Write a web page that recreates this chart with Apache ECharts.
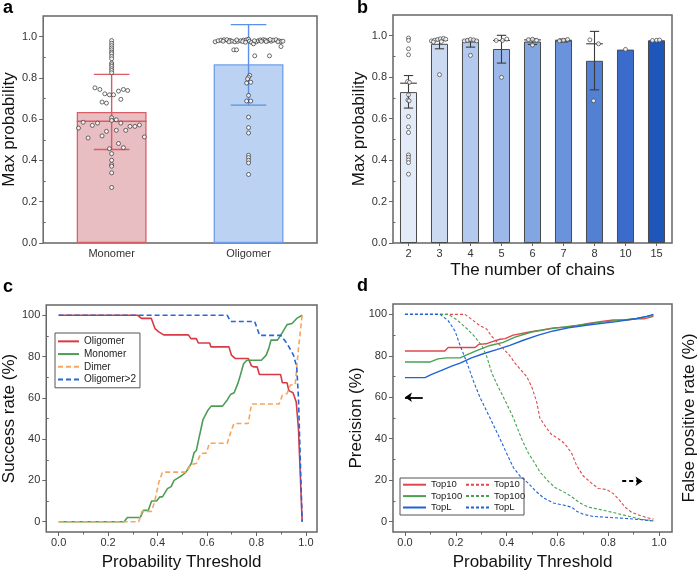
<!DOCTYPE html>
<html><head><meta charset="utf-8">
<script src="https://cdn.jsdelivr.net/npm/echarts@6/dist/echarts.min.js"></script>
<style>html,body{margin:0;padding:0;background:#fff}#c{width:700px;height:574px}</style>
</head><body><div id="c"></div>
<script>
// ---------------- Panel a ----------------
const aCategories = ['Monomer', 'Oligomer'];
const aMeans = [0.635, 0.866];
const aErrLow = [0.453, 0.668];
const aErrHigh = [0.817, 1.058];
const aMedians = [0.590, 0.976];
const monomerValues = [0.981,0.968,0.957,0.946,0.936,0.925,0.917,0.904,0.893,0.872,0.864,0.856,0.845,0.836,0.825,
  0.752,0.744,0.723,0.718,0.718,0.736,0.744,0.739,0.696,0.683,0.678,
  0.607,0.594,0.597,0.585,0.581,0.581,0.570,0.557,0.565,0.565,0.572,0.541,0.546,0.546,0.519,0.509,0.514,0.482,0.462,0.457,0.433,0.401,0.380,0.372,0.340,0.269];
const monomerOffsets = [0,0,0,0,0,0,0,0,0,0,0,0,0,0,0,
  -0.122,-0.086,-0.050,-0.016,0.014,0.050,0.086,0.117,0.067,-0.070,-0.038,
  0,0,0.034,-0.208,0.067,-0.103,-0.141,-0.242,0.134,0.170,0.203,-0.038,0.034,0.103,-0.070,-0.172,0.239,0.050,0.086,-0.016,0,0,0,0,0,0];
const oligomerValues = [0.975,0.980,0.983,0.985,0.985,0.982,0.978,0.975,0.977,0.980,0.983,0.985,0.987,0.978,0.972,0.965,0.975,0.980,0.984,0.985,0.983,0.980,0.978,0.983,0.985,0.980,0.976,0.978,0.975,0.976,0.980,0.976,0.984,0.986,0.975,0.978,0.973,0.977,
  0.936,0.936,0.907,0.907,0.952,
  0.812,0.803,0.795,0.775,0.779,0.715,0.688,0.688,0.610,0.559,0.533,0.425,0.414,0.401,0.388,0.332];
const oligomerOffsets = [-0.244,-0.222,-0.201,-0.179,-0.158,-0.136,-0.122,-0.100,-0.079,-0.057,-0.036,-0.014,0,0.007,0.022,0.036,0.057,0.072,0.086,0.108,0.122,0.143,0.165,0.179,0.201,0.222,0.237,0.251,-0.143,-0.043,0.043,0.129,-0.086,0.158,0.215,-0.186,-0.022,0.093,
  -0.108,-0.088,0.045,0.153,0.237,
  0.009,0,-0.007,-0.014,0.016,0,-0.014,0.016,0,0,0,0,0,0,0,0];

// ---------------- Panel b ----------------
const bCategories = ['2','3','4','5','6','7','8','10','15'];
const bMeans = [0.728,0.961,0.972,0.936,0.972,0.977,0.879,0.933,0.978];
const bErrLow = [0.651,0.937,0.945,0.868,0.958,0.970,0.739,null,null];
const bErrHigh = [0.808,0.985,0.983,1.002,0.985,0.984,1.021,null,null];
const bMedians = [0.771,0.977,0.978,0.977,0.980,0.978,0.961,null,null];
const bPointValues = [
  [0.989,0.978,0.937,0.908,0.779,0.775,0.715,0.690,0.686,0.610,0.560,0.533,0.425,0.414,0.401,0.388,0.332],
  [0.975,0.978,0.982,0.985,0.987,0.983,0.970,0.972,0.812],
  [0.975,0.978,0.982,0.980,0.975,0.905],
  [0.977,0.977,0.984,0.799],
  [0.981,0.983,0.978,0.955],
  [0.975,0.978,0.982],
  [0.980,0.961,0.686],
  [0.934],
  [0.977,0.978,0.979]
];
const bPointOffsets = [
  [0,0,0,0,-0.03,0.03,0,-0.02,0.02,0,0,0,0,0,0,0,0],
  [-0.26,-0.16,-0.06,0.03,0.13,0.2,-0.2,0.06,0],
  [-0.2,-0.1,0,0.1,0.2,0],
  [-0.17,0.03,0.17,0],
  [-0.13,0,0.13,0],
  [-0.13,0,0.13],
  [-0.15,0.13,-0.03],
  [0],
  [-0.13,0,0.1]
];

// ---------------- Panel c ----------------
const cOligomer = [[0,100],[0.32,100],[0.335,98.5],[0.375,98.5],[0.39,93.5],[0.405,92],[0.425,90.5],[0.525,90.5],[0.535,88.7],[0.557,88.7],[0.565,86.6],[0.611,86.6],[0.616,84.7],[0.689,84.7],[0.699,80.7],[0.714,79.1],[0.767,79.1],[0.78,75.5],[0.79,75],[0.803,75],[0.812,71.3],[0.898,71.3],[0.905,67.3],[0.924,67.3],[0.931,63.5],[0.948,62.5],[0.961,58],[0.97,45],[0.985,0]];
const cMonomer = [[0,0],[0.265,0],[0.278,2],[0.33,2],[0.343,5.5],[0.363,5.5],[0.376,10],[0.396,10],[0.409,12],[0.42,12],[0.44,16],[0.455,17],[0.467,20],[0.48,21],[0.5,22.5],[0.515,24],[0.525,26],[0.537,28.3],[0.548,33.5],[0.557,34.5],[0.565,39],[0.584,49.5],[0.604,54],[0.617,56],[0.663,56],[0.682,59],[0.695,61.6],[0.71,62.5],[0.725,67],[0.735,71],[0.748,76.5],[0.761,78.2],[0.82,78.2],[0.839,80.6],[0.85,84],[0.859,88],[0.885,88],[0.898,90.3],[0.924,95.5],[0.944,96],[0.963,98.5],[0.985,100]];
const cDimer = [[0,0],[0.324,0],[0.337,5],[0.376,5],[0.389,10],[0.405,19],[0.42,24],[0.519,24],[0.532,27.5],[0.558,28.3],[0.575,33],[0.597,33.2],[0.61,38],[0.682,38],[0.695,43],[0.709,47.6],[0.767,47.6],[0.78,57],[0.892,57],[0.905,61.3],[0.924,62.1],[0.937,66.2],[0.957,66.5],[0.97,84],[0.985,100]];
const cOligomer2 = [[0,100],[0.682,100],[0.695,97],[0.793,97],[0.813,90.3],[0.898,90.3],[0.924,86.3],[0.95,80.7],[0.963,75],[0.97,60],[0.985,0]];

// ---------------- Panel d ----------------
const dTop10 = [[0,82.3],[0.157,82.3],[0.17,84],[0.276,84],[0.29,85.5],[0.32,85.8],[0.335,86.5],[0.374,88],[0.394,88.3],[0.426,90],[0.49,91.5],[0.54,92.5],[0.584,93.5],[0.636,93.8],[0.676,94.5],[0.715,95.5],[0.768,96.5],[0.82,97.3],[0.87,97.3],[0.925,98],[0.94,97.8],[0.978,99]];
const dTop100 = [[0,77],[0.098,77],[0.13,78.5],[0.164,79],[0.217,79],[0.243,80.5],[0.282,82.5],[0.335,85],[0.387,86.5],[0.433,89],[0.499,91.5],[0.571,93],[0.65,94.3],[0.702,95],[0.755,96],[0.833,97],[0.912,98],[0.978,99.5]];
const dTopL = [[0,69.5],[0.079,69.5],[0.105,71],[0.144,73],[0.184,75],[0.217,76.5],[0.262,79],[0.308,81],[0.361,83],[0.413,85],[0.466,87.5],[0.525,90],[0.584,92],[0.643,93.5],[0.728,95],[0.833,96.5],[0.912,98],[0.951,99],[0.978,100]];
const dTop10FPR = [[0,100],[0.236,100],[0.269,97],[0.295,94.5],[0.321,93],[0.341,89.5],[0.367,86],[0.387,83.5],[0.413,80],[0.433,76.5],[0.479,70],[0.499,65],[0.518,58],[0.531,50],[0.558,45],[0.577,42],[0.604,40],[0.63,37.5],[0.656,33],[0.676,27],[0.702,22],[0.735,18.5],[0.761,16],[0.794,15.5],[0.82,13.5],[0.84,11],[0.866,7],[0.892,4.5],[0.925,3],[0.951,2],[0.978,1.2]];
const dTop100FPR = [[0,100],[0.17,100],[0.203,97.5],[0.236,94],[0.269,90],[0.302,85],[0.321,80],[0.341,72],[0.367,65],[0.4,57],[0.427,50],[0.459,40],[0.486,33],[0.512,28],[0.531,24],[0.564,19.5],[0.59,16.5],[0.63,14],[0.656,12],[0.689,9],[0.722,7],[0.781,5.5],[0.833,4],[0.886,2.5],[0.925,1.2],[0.978,0.5]];
const dTopLFPR = [[0,100],[0.138,100],[0.17,97],[0.197,92],[0.217,85],[0.243,77],[0.269,68],[0.295,60],[0.335,50],[0.374,40],[0.4,33],[0.427,26],[0.453,22],[0.486,18.5],[0.512,15],[0.545,11.5],[0.584,9],[0.623,8],[0.656,7],[0.676,5],[0.702,3.5],[0.741,2.5],[0.807,2],[0.872,1.5],[0.925,1],[0.978,0.3]];

// tick labels
const probTicks = [0, 0.2, 0.4, 0.6, 0.8, 1.0];
const probMinor = [0.1, 0.3, 0.5, 0.7, 0.9];
const pctTicks = [0, 20, 40, 60, 80, 100];
const pctMinor = [10, 30, 50, 70, 90];

// ---------------- styling ----------------
const FONT = '"Liberation Sans", Arial, sans-serif';
const FRAME = '#666';
const LABEL = {fontSize: 11, color: '#333', fontFamily: FONT};
const NAME = {fontSize: 17, color: '#111', fontFamily: FONT};
const aFill = ['#e9bec2', '#bcd2f3'];
const aStroke = ['#d65f68', '#6f9eea'];
const aErrColor = ['#dc5a64', '#5b8fe8'];
const bColors = ['#e4ebf8','#ccdaf1','#b3c9ee','#9cb8e8','#82a6e1','#6a93db','#5280d2','#3b6ccb','#1f56b9'];
const grids = [
  {left: 38, top: 16, width: 279, height: 227},
  {left: 393, top: 15, width: 279, height: 228},
  {left: 38, top: 305, width: 279, height: 227},
  {left: 393, top: 304, width: 279, height: 228}
].map(g => Object.assign({show: true, borderColor: FRAME, borderWidth: 1.5, backgroundColor: 'rgba(0,0,0,0)'}, g));

const NOLINE = {show: false, onZero: false};
function mainValueAxis(gi, min, max, ticks, fmt, extra) {
  return Object.assign({
    gridIndex: gi, type: 'value', min: min, max: max,
    axisLine: NOLINE, splitLine: {show: false},
    axisTick: {show: true, inside: false, length: 4, customValues: ticks, lineStyle: {color: FRAME, width: 1}},
    axisLabel: Object.assign({customValues: ticks, formatter: fmt, margin: 6}, LABEL)
  }, extra || {});
}
function minorAxis(gi, min, max, ticks, position, inside) {
  return {
    gridIndex: gi, type: 'value', min: min, max: max, position: position,
    axisLine: NOLINE, splitLine: {show: false}, axisLabel: {show: false},
    axisTick: {show: true, inside: inside, length: 2.5, customValues: ticks, lineStyle: {color: FRAME, width: 1}}
  };
}
const f1 = v => (+v).toFixed(1);
const f0 = v => String(Math.round(v));

function errorRenderer(capFrac, medFrac, colors, lw) {
  return function (params, api) {
    const i = api.value(0), lo = api.value(1), hi = api.value(2), med = api.value(3);
    const band = api.size([1, 0])[0];
    const pLo = api.coord([i, lo]), pHi = api.coord([i, hi]);
    const x = pLo[0];
    const style = {stroke: colors[i % colors.length], lineWidth: lw, fill: null};
    const children = [
      {type: 'line', shape: {x1: x, y1: pLo[1], x2: x, y2: pHi[1]}, style: style},
      {type: 'line', shape: {x1: x - band * capFrac, y1: pLo[1], x2: x + band * capFrac, y2: pLo[1]}, style: style},
      {type: 'line', shape: {x1: x - band * capFrac, y1: pHi[1], x2: x + band * capFrac, y2: pHi[1]}, style: style}
    ];
    if (!isNaN(med)) {
      const pM = api.coord([i, med]);
      children.push({type: 'line', shape: {x1: x - band * medFrac, y1: pM[1], x2: x + band * medFrac, y2: pM[1]}, style: style});
    }
    return {type: 'group', children: children};
  };
}

const xAxis = [
  {gridIndex: 0, type: 'category', data: aCategories,
   axisLine: NOLINE, axisTick: {show: true, inside: true, alignWithLabel: true, length: 4, lineStyle: {color: FRAME}},
   axisLabel: Object.assign({margin: 5}, LABEL)},
  {gridIndex: 0, type: 'value', min: 0, max: 2, show: false, axisLine: NOLINE},
  {gridIndex: 1, type: 'category', data: bCategories,
   name: 'The number of chains', nameLocation: 'middle', nameGap: 19, nameTextStyle: NAME,
   axisLine: NOLINE, axisTick: {show: true, inside: false, alignWithLabel: true, length: 3, lineStyle: {color: FRAME}},
   axisLabel: Object.assign({margin: 5}, LABEL)},
  {gridIndex: 1, type: 'value', min: 0, max: 9, show: false, axisLine: NOLINE},
  mainValueAxis(2, -0.05, 1.045, probTicks, f1, {position: 'bottom', name: 'Probability Threshold', nameLocation: 'middle', nameGap: 22, nameTextStyle: NAME}),
  minorAxis(2, -0.05, 1.045, probMinor, 'bottom', false),
  mainValueAxis(3, -0.047, 1.051, probTicks, f1, {position: 'bottom', name: 'Probability Threshold', nameLocation: 'middle', nameGap: 22, nameTextStyle: NAME}),
  minorAxis(3, -0.047, 1.051, probMinor, 'bottom', false)
];
xAxis[4].axisLabel.margin = 5; xAxis[6].axisLabel.margin = 5;

const yAxis = [
  mainValueAxis(0, 0, 1.1, probTicks, f1, {position: 'left', name: 'Max probability', nameLocation: 'middle', nameGap: 22, nameRotate: 90, nameTextStyle: NAME}),
  minorAxis(0, 0, 1.1, probMinor, 'left', true),
  mainValueAxis(1, 0, 1.1, probTicks, f1, {position: 'left', name: 'Max probability', nameLocation: 'middle', nameGap: 22, nameRotate: 90, nameTextStyle: NAME}),
  minorAxis(1, 0, 1.1, probMinor, 'left', true),
  mainValueAxis(2, -5, 105, pctTicks, f0, {position: 'left', name: 'Success rate (%)', nameLocation: 'middle', nameGap: 22, nameRotate: 90, nameTextStyle: NAME}),
  minorAxis(2, -5, 105, pctMinor, 'left', true),
  mainValueAxis(3, -5, 105, pctTicks, f0, {position: 'left', name: 'Precision (%)', nameLocation: 'middle', nameGap: 22, nameRotate: 90, nameTextStyle: NAME}),
  minorAxis(3, -5, 105, pctMinor, 'left', true),
  {gridIndex: 3, type: 'value', min: -5, max: 105, position: 'right',
   name: 'False positive rate (%)', nameLocation: 'middle', nameGap: 9, nameRotate: 90, nameTextStyle: NAME,
   axisLine: NOLINE, axisTick: {show: false}, axisLabel: {show: false}, splitLine: {show: false}}
];

const hollow = (border) => ({color: '#fff', borderColor: border, borderWidth: 0.9});

const series = [];
// Panel a
series.push({type: 'bar', xAxisIndex: 0, yAxisIndex: 0, barWidth: '51%',
  data: aMeans.map((v, i) => ({value: v, itemStyle: {color: aFill[i], borderColor: aStroke[i], borderWidth: 1.3}}))});
series.push({type: 'custom', xAxisIndex: 0, yAxisIndex: 0, z: 3,
  renderItem: errorRenderer(0.13, 0.255, aErrColor, 1.4),
  data: aCategories.map((c, i) => [i, aErrLow[i], aErrHigh[i], aMedians[i]])});
series.push({type: 'scatter', xAxisIndex: 1, yAxisIndex: 0, z: 4, symbol: 'circle', symbolSize: 4, itemStyle: hollow('#333'),
  data: monomerValues.map((v, k) => [0.5 + monomerOffsets[k], v])});
series.push({type: 'scatter', xAxisIndex: 1, yAxisIndex: 0, z: 4, symbol: 'circle', symbolSize: 4, itemStyle: hollow('#333'),
  data: oligomerValues.map((v, k) => [1.5 + oligomerOffsets[k], v])});
// Panel b
series.push({type: 'bar', xAxisIndex: 2, yAxisIndex: 2, barWidth: '55%',
  data: bMeans.map((v, i) => ({value: v, itemStyle: {color: bColors[i], borderColor: '#4a4a4a', borderWidth: 1}}))});
const bErrData = [];
bCategories.forEach((c, i) => { if (bErrLow[i] != null) bErrData.push([i, bErrLow[i], bErrHigh[i], bMedians[i] == null ? '-' : bMedians[i]]); });
series.push({type: 'custom', xAxisIndex: 2, yAxisIndex: 2, z: 3,
  renderItem: errorRenderer(0.15, 0.27, ['#3a3a3a'], 1.1), data: bErrData});
const bScatter = [];
bPointValues.forEach((arr, i) => arr.forEach((v, k) => bScatter.push([i + 0.5 + bPointOffsets[i][k], v])));
series.push({type: 'scatter', xAxisIndex: 3, yAxisIndex: 2, z: 4, symbol: 'circle', symbolSize: 4, itemStyle: hollow('#444'), data: bScatter});
// Panel c
function line(name, data, xi, yi, color, type, w) {
  return {type: 'line', name: name, xAxisIndex: xi, yAxisIndex: yi, data: data, symbol: 'none', showSymbol: false,
    lineStyle: {color: color, width: w, type: type}, itemStyle: {color: color, opacity: 0}};
}
series.push(line('Oligomer', cOligomer, 4, 4, '#d63b45', 'solid', 1.6));
series.push(line('Monomer', cMonomer, 4, 4, '#4f9d55', 'solid', 1.6));
series.push(line('Dimer', cDimer, 4, 4, '#f7a55b', [5, 3], 1.6));
series.push(line('Oligomer>2', cOligomer2, 4, 4, '#2566d9', [5, 3], 1.6));
// Panel d
const sTop10 = line('Top10', dTop10, 6, 6, '#e0474c', 'solid', 1.4);
sTop10.markLine = {
  silent: true, animation: false, symbol: ['none', 'arrow'], symbolSize: 7, label: {show: false},
  lineStyle: {color: '#000', width: 1.8, type: 'solid'},
  itemStyle: {color: '#000', opacity: 1},
  data: [
    [{coord: [0.07, 60]}, {coord: [0.0, 60]}],
    [{coord: [0.855, 19.5], lineStyle: {type: [4, 3], color: '#000', width: 1.8}}, {coord: [0.935, 19.5]}]
  ]
};
series.push(sTop10);
series.push(line('Top100', dTop100, 6, 6, '#4aa050', 'solid', 1.4));
series.push(line('TopL', dTopL, 6, 6, '#1f63d6', 'solid', 1.4));
series.push(line('Top10 ', dTop10FPR, 6, 8, '#e0474c', [3, 2], 1.1));
series.push(line('Top100 ', dTop100FPR, 6, 8, '#4aa050', [3, 2], 1.1));
series.push(line('TopL ', dTopLFPR, 6, 8, '#1f63d6', [3, 2], 1.1));

const cLegendText = {fontSize: 10, color: '#222', fontFamily: FONT, lineHeight: 12.7};
const dLegendText = {fontSize: 9.5, color: '#222', fontFamily: FONT, lineHeight: 11.4};
const option = {
  animation: false,
  grid: grids,
  xAxis: xAxis,
  yAxis: yAxis,
  legend: [
    {data: ['Oligomer', 'Monomer', 'Dimer', 'Oligomer>2'], orient: 'vertical', left: 55, top: 333,
     selectedMode: false, borderColor: '#555', borderWidth: 1, padding: [2, 4, 2, 2],
     itemWidth: 21, itemHeight: 8, itemGap: 0, itemStyle: {opacity: 0}, textStyle: cLegendText},
    {data: ['Top10', 'Top100', 'TopL'], orient: 'vertical', left: 400, top: 479, selectedMode: false, padding: [0, 0, 0, 2],
     itemWidth: 23, itemHeight: 8, itemGap: 0, itemStyle: {opacity: 0}, textStyle: dLegendText},
    {data: ['Top10 ', 'Top100 ', 'TopL '], orient: 'vertical', left: 463, top: 479, selectedMode: false, padding: [0, 0, 0, 2],
     itemWidth: 23, itemHeight: 8, itemGap: 0, itemStyle: {opacity: 0}, formatter: n => n.trim(), textStyle: dLegendText}
  ],
  graphic: [
    {type: 'rect', shape: {x: 400, y: 478, width: 124, height: 37}, style: {fill: 'none', stroke: '#555', lineWidth: 1}, z: 100},
    {type: 'text', left: 3, top: -1, style: {text: 'a', font: 'bold 18px ' + FONT, fill: '#000'}},
    {type: 'text', left: 357, top: -1, style: {text: 'b', font: 'bold 18px ' + FONT, fill: '#000'}},
    {type: 'text', left: 3, top: 278, style: {text: 'c', font: 'bold 18px ' + FONT, fill: '#000'}},
    {type: 'text', left: 357, top: 277, style: {text: 'd', font: 'bold 18px ' + FONT, fill: '#000'}}
  ],
  series: series
};
const chart = echarts.init(document.getElementById('c'), null, {renderer: 'canvas'});
chart.setOption(option);
</script>
</body></html>
